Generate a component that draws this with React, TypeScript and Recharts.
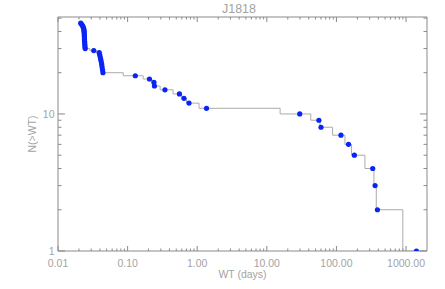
import { ComposedChart, XAxis, YAxis, Scatter, Line, ReferenceArea } from "recharts";

// waiting times (days), sorted ascending, and the cumulative count N(>WT) for each
const waitTimes = [
  0.0212, 0.0219, 0.0226, 0.023, 0.0234, 0.0236, 0.0237, 0.0238, 0.0239, 0.0239,
  0.024, 0.024, 0.0241, 0.0242, 0.0243, 0.0244, 0.0246, 0.0326, 0.0391, 0.0397,
  0.0404, 0.0411, 0.0418, 0.0425, 0.043, 0.0436, 0.0442, 0.129, 0.206, 0.239,
  0.243, 0.344, 0.555, 0.645, 0.762, 1.36, 29.7, 56, 60, 116,
  149, 181, 332, 359, 388, 1410,
];
const counts = [
  46, 45, 44, 43, 42, 41, 40, 39, 38, 37,
  36, 35, 34, 33, 32, 31, 30, 29, 28, 27,
  26, 25, 24, 23, 22, 21, 20, 19, 18, 17,
  16, 15, 14, 13, 12, 11, 10, 9, 8, 7,
  6, 5, 4, 3, 2, 1,
];

const xMajorTicks = [0.01, 0.1, 1, 10, 100, 1000];
const xTickLabels = ["0.01", "0.10", "1.00", "10.00", "100.00", "1000.00"];
const yMajorTicks = [1, 10];
const yTickLabels = ["1", "10"];
const yMinorTicks = [2, 3, 4, 5, 6, 7, 8, 9, 20, 30, 40, 50];

const W = 445;
const H = 289;
const TOP = 17;
const BOTTOM = 251;
const LEFT = 58;
const RIGHT = 427;
const AXIS = "#8a8a8a";
const TEXT = "#a3a3a3";
const FONT = "'Liberation Sans', Arial, sans-serif";

const points = waitTimes.map((wt, i) => ({ wt, n: counts[i] }));

// histogram-style steps: transitions halfway (in data units) between neighbours
const steps = (() => {
  const last = points.length - 1;
  const out = [{ wt: points[0].wt - (points[1].wt - points[0].wt) / 2, n: points[0].n }];
  for (let i = 1; i <= last; i++) {
    out.push({ wt: (points[i - 1].wt + points[i].wt) / 2, n: points[i].n });
  }
  out.push({ wt: points[last].wt + (points[last].wt - points[last - 1].wt) / 2, n: points[last].n });
  return out;
})();

const xMinorTicks = xMajorTicks
  .flatMap((d) => [2, 3, 4, 5, 6, 7, 8, 9].map((m) => d * m))
  .filter((v) => v < 2000);
const xTicks = [...xMajorTicks, ...xMinorTicks].sort((a, b) => a - b);
const yTicks = [...yMajorTicks, ...yMinorTicks].sort((a, b) => a - b);

const findMajor = (arr: number[], v: number) => arr.findIndex((t) => Math.abs(t - v) / t < 1e-6);

function XTick(props: any) {
  const { x, payload } = props;
  const i = findMajor(xMajorTicks, payload.value);
  const len = i >= 0 ? 5 : 2.5;
  return (
    <g>
      <line x1={x} x2={x} y1={BOTTOM} y2={BOTTOM - len} stroke={AXIS} />
      <line x1={x} x2={x} y1={TOP} y2={TOP + len} stroke={AXIS} />
      {i >= 0 && (
        <text x={x} y={267} textAnchor="middle" fill={TEXT} fontSize={10.5} fontFamily={FONT}>
          {xTickLabels[i]}
        </text>
      )}
    </g>
  );
}

function YTick(props: any) {
  const { y, payload } = props;
  const i = findMajor(yMajorTicks, payload.value);
  const len = i >= 0 ? 7 : 3.5;
  return (
    <g>
      <line x1={LEFT} x2={LEFT + len} y1={y} y2={y} stroke={AXIS} />
      <line x1={RIGHT} x2={RIGHT - len} y1={y} y2={y} stroke={AXIS} />
      {i >= 0 && (
        <text x={54.5} y={y + 3.6} textAnchor="end" fill={TEXT} fontSize={10.5} fontFamily={FONT}>
          {yTickLabels[i]}
        </text>
      )}
    </g>
  );
}

const Dot = (props: any) => <circle cx={props.cx} cy={props.cy} r={2.6} fill="#0a24f5" />;

export default function App() {
  return (
    <div style={{ position: "absolute", left: 0, top: 0, width: W, height: H, background: "#fff" }}>
      <svg width={W} height={H} style={{ position: "absolute", left: 0, top: 0 }}>
        <text x={239} y={13} textAnchor="middle" fill={TEXT} fontSize={12.5} fontFamily={FONT}>
          J1818
        </text>
        <text x={242.5} y={278} textAnchor="middle" fill={TEXT} fontSize={10.5} fontFamily={FONT}>
          WT (days)
        </text>
        <text
          x={36}
          y={134}
          textAnchor="middle"
          fill={TEXT}
          fontSize={10.5}
          fontFamily={FONT}
          transform="rotate(-90, 36, 134)"
        >
          {"N(>WT)"}
        </text>
      </svg>
      <div style={{ position: "absolute", left: 0, top: 0 }}>
        <ComposedChart width={W} height={H} margin={{ top: TOP, right: W - RIGHT, bottom: 0, left: 0 }}>
          <XAxis
            dataKey="wt"
            type="number"
            scale="log"
            domain={[0.01, 2000]}
            ticks={xTicks}
            interval={0}
            height={H - BOTTOM}
            axisLine={false}
            tickLine={false}
            tick={(p: any) => <XTick {...p} />}
          />
          <YAxis
            dataKey="n"
            type="number"
            scale="log"
            domain={[1, 51]}
            allowDataOverflow
            ticks={yTicks}
            interval={0}
            width={LEFT}
            axisLine={false}
            tickLine={false}
            tick={(p: any) => <YTick {...p} />}
          />
          <Line
            data={steps}
            dataKey="n"
            type="stepAfter"
            stroke="#ababab"
            strokeWidth={1}
            dot={false}
            isAnimationActive={false}
          />
          <Scatter data={points} dataKey="n" shape={Dot} isAnimationActive={false} />
          <ReferenceArea x1={0.01} x2={2000} y1={1} y2={51} fill="none" stroke={AXIS} strokeWidth={1} />
        </ComposedChart>
      </div>
    </div>
  );
}
